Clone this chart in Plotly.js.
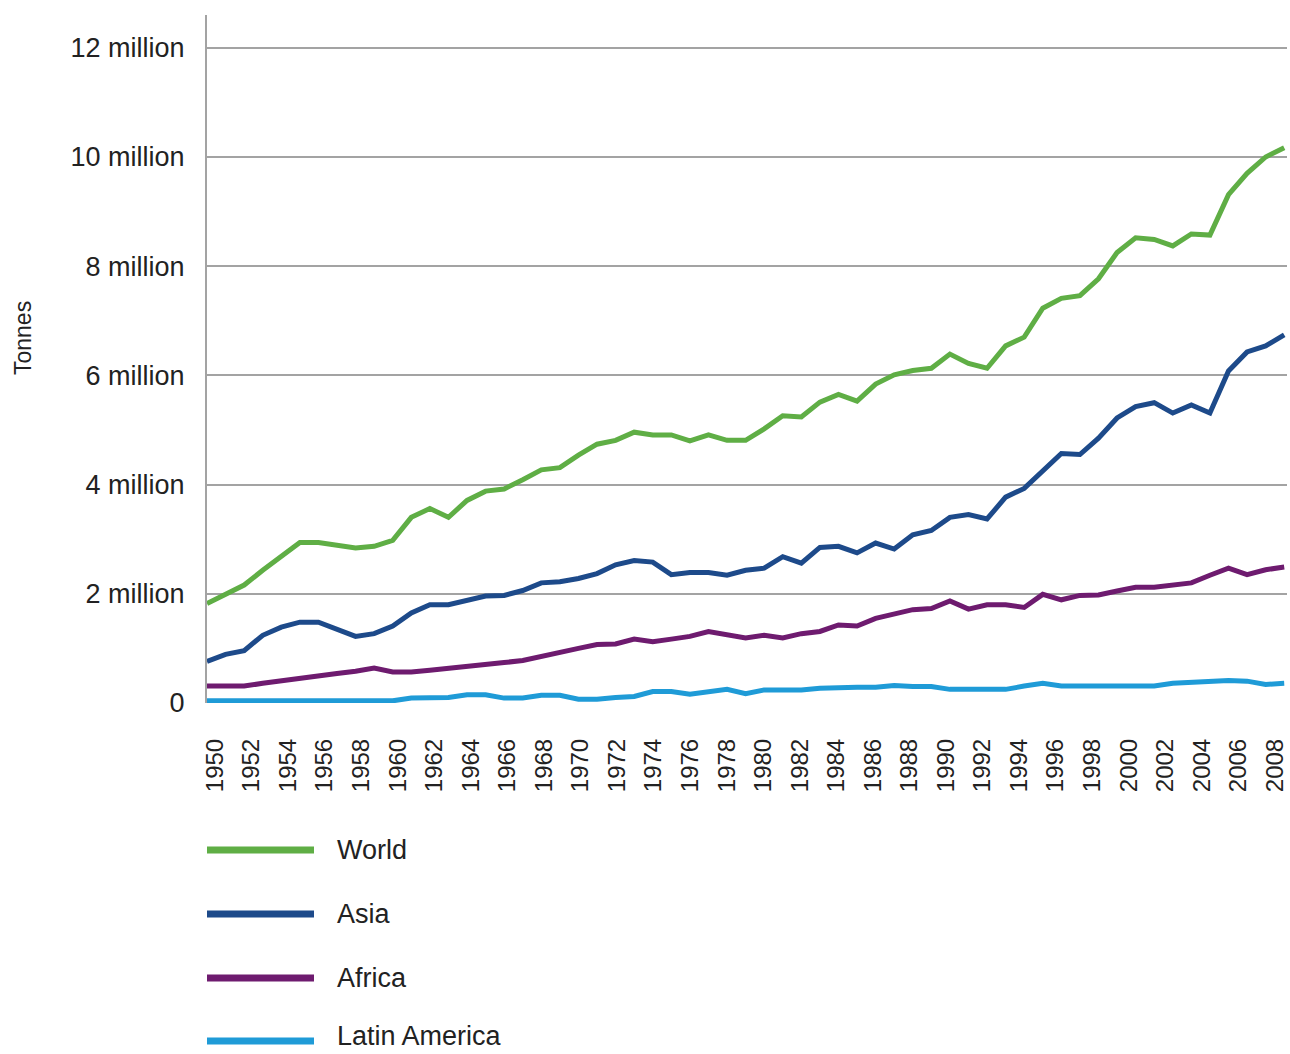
<!DOCTYPE html>
<html>
<head>
<meta charset="utf-8">
<script src="https://cdn.plot.ly/plotly-3.0.1.min.js"></script>
<style>
html,body{margin:0;padding:0;background:#fff;}
#chart{width:1290px;height:1054px;}
</style>
</head>
<body>
<div id="chart"></div>
<script>
// Years (x categories)
var years = [];
for (var y = 1950; y <= 2008; y++) years.push(y);

// Values in million tonnes
var world = [1.82,1.99,2.16,2.43,2.69,2.94,2.94,2.89,2.84,2.87,
             2.98,3.40,3.56,3.40,3.71,3.88,3.92,4.09,4.27,4.31,
             4.54,4.74,4.81,4.96,4.91,4.91,4.80,4.91,4.81,4.81,
             5.02,5.26,5.24,5.51,5.65,5.53,5.84,6.01,6.09,6.13,
             6.39,6.22,6.13,6.54,6.70,7.23,7.41,7.46,7.77,8.25,
             8.52,8.49,8.37,8.59,8.57,9.31,9.70,10.00,10.17];
var asia = [0.76,0.89,0.96,1.24,1.39,1.48,1.48,1.35,1.22,1.27,
            1.41,1.65,1.80,1.80,1.89,1.96,1.97,2.06,2.20,2.22,
            2.28,2.37,2.53,2.61,2.58,2.35,2.39,2.39,2.34,2.43,
            2.47,2.68,2.56,2.85,2.87,2.75,2.93,2.82,3.08,3.16,
            3.40,3.45,3.37,3.77,3.93,4.25,4.57,4.55,4.85,5.22,
            5.43,5.50,5.31,5.46,5.31,6.08,6.43,6.54,6.74];
var africa = [0.31,0.31,0.31,0.36,0.41,0.46,0.50,0.54,0.58,0.64,
              0.57,0.57,0.60,0.63,0.67,0.70,0.74,0.78,0.86,0.93,
              1.00,1.07,1.08,1.17,1.12,1.17,1.22,1.31,1.24,1.19,
              1.24,1.19,1.27,1.31,1.43,1.41,1.55,1.62,1.71,1.73,
              1.87,1.72,1.80,1.80,1.75,1.99,1.89,1.97,1.98,2.05,
              2.12,2.12,2.16,2.20,2.34,2.47,2.35,2.44,2.49];
var latinAmerica = [0.04,0.04,0.04,0.04,0.04,0.04,0.04,0.04,0.04,0.04,
                    0.04,0.09,0.10,0.10,0.15,0.15,0.09,0.09,0.14,0.14,
                    0.07,0.07,0.10,0.12,0.21,0.21,0.16,0.21,0.25,0.17,
                    0.24,0.24,0.24,0.27,0.29,0.29,0.29,0.32,0.30,0.30,
                    0.25,0.25,0.25,0.25,0.31,0.36,0.31,0.31,0.31,0.31,
                    0.31,0.31,0.36,0.38,0.40,0.41,0.40,0.34,0.36];

var seriesNames = ["World","Asia","Africa","Latin America"];
var seriesColors = ["#5fae45","#1d4a8a","#6e1b6f","#1f9bd7"];
var seriesValues = [world, asia, africa, latinAmerica];

// Tick labels
var yTickVals = [0,2,4,6,8,10,12];
var yTickText = ["0","2 million","4 million","6 million","8 million","10 million","12 million"];
var xTickVals = [];
for (var t = 1950; t <= 2008; t += 2) xTickVals.push(t);
var xTickText = xTickVals.map(String);
var yTitle = "Tonnes";

var FONT = "Liberation Sans, Arial, Helvetica, sans-serif";

// Draw order: Latin America first so World is on top
var traces = [];
for (var i = seriesNames.length - 1; i >= 0; i--) {
  traces.push({
    type: "scatter",
    mode: "lines",
    x: years,
    y: seriesValues[i],
    name: seriesNames[i],
    line: {color: seriesColors[i], width: 5},
    showlegend: false,
    hoverinfo: "x+y+name"
  });
}
// empty carrier trace so the year-label axis (x2) is built
traces.push({
  type: "scatter", mode: "lines",
  x: years, y: years.map(function () { return null; }),
  xaxis: "x2", yaxis: "y",
  showlegend: false, hoverinfo: "skip"
});

var mL = 207, mR = 3, mT = 15, mB = 351;
var plotW = 1290 - mL - mR, plotH = 1054 - mT - mB;

// Manual legend (long line samples as in the reference)
var shapes = [], annotations = [];
var legendY = [850, 914, 978, 1041];
var legendTextY = [850, 914, 978, 1036];
for (var j = 0; j < seriesNames.length; j++) {
  var py = (1054 - mB - legendY[j]) / plotH;
  var pty = (1054 - mB - legendTextY[j]) / plotH;
  shapes.push({
    type: "line", xref: "paper", yref: "paper",
    x0: 0, x1: (314 - mL) / plotW, y0: py, y1: py,
    line: {color: seriesColors[j], width: 7}
  });
  annotations.push({
    xref: "paper", yref: "paper",
    x: (335 - mL) / plotW, y: pty,
    xanchor: "left", yanchor: "middle",
    text: seriesNames[j], showarrow: false,
    font: {family: FONT, size: 27, color: "#222"}
  });
}

// Y-axis title as an annotation (placed as in the reference)
annotations.push({
  xref: "paper", yref: "paper",
  x: (23 - mL) / plotW, y: (1054 - mB - 338) / plotH,
  xanchor: "center", yanchor: "middle",
  text: yTitle, textangle: -90, showarrow: false,
  font: {family: FONT, size: 23, color: "#222"}
});

var layout = {
  width: 1290, height: 1054,
  margin: {l: mL, r: mR, t: mT, b: mB},
  paper_bgcolor: "#fff",
  plot_bgcolor: "#fff",
  showlegend: false,
  xaxis: {
    range: [1950, 2008.15],
    showticklabels: false,
    ticks: "",
    showgrid: false,
    zeroline: false,
    showline: false
  },
  // label axis: year labels sit slightly inset as in the reference
  xaxis2: {
    overlaying: "x",
    anchor: "y",
    side: "bottom",
    range: [1949.56, 2008.66],
    tickvals: xTickVals,
    ticktext: xTickText,
    tickangle: -90,
    ticks: "",
    ticklabelstandoff: 30,
    showgrid: false,
    zeroline: false,
    showline: false,
    tickfont: {family: FONT, size: 24, color: "#222"}
  },
  yaxis: {
    range: [0, 12.6],
    tickvals: yTickVals,
    ticktext: yTickText,
    ticks: "",
    ticklabelstandoff: 15,
    showgrid: true,
    gridcolor: "#a3a3a3",
    gridwidth: 2,
    zeroline: false,
    showline: true,
    linecolor: "#a3a3a3",
    linewidth: 2,
    tickfont: {family: FONT, size: 27, color: "#222"}
  },
  shapes: shapes,
  annotations: annotations
};

Plotly.newPlot("chart", traces, layout, {displayModeBar: false, staticPlot: true});
</script>
</body>
</html>
